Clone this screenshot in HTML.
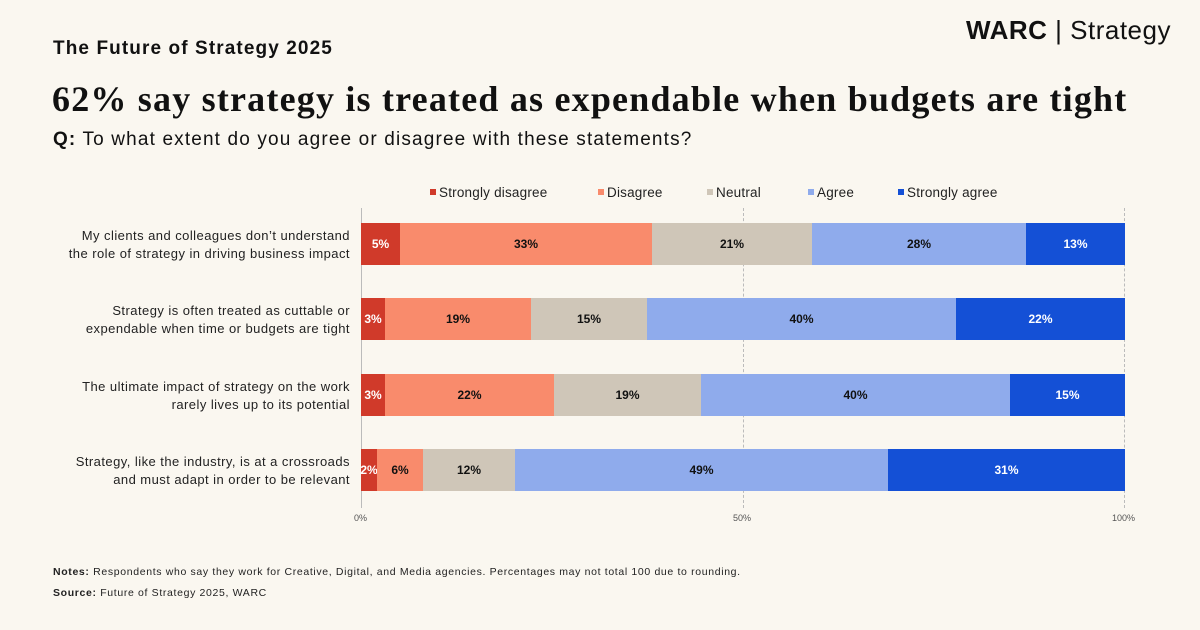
<!DOCTYPE html><html><head><style>
body{margin:0;background:#faf7f0;font-family:"Liberation Sans",sans-serif;color:#111}
#c{position:relative;width:1200px;height:630px;overflow:hidden}
.a{position:absolute;white-space:nowrap}
.bar{position:absolute;height:42px;display:flex;align-items:center;justify-content:center;font-size:12px;font-weight:bold}
.lab{position:absolute;right:850px;text-align:right;font-size:13px;letter-spacing:0.45px;line-height:18px;color:#222}
.lg{position:absolute;top:185px;font-size:13.5px;letter-spacing:0.2px;color:#222}
.lg i{display:inline-block;width:6px;height:6px;margin-right:3px;vertical-align:2px}
</style></head><body><div id="c">
<div class="a" style="left:966px;top:15px;font-size:26px;letter-spacing:0.5px"><b>WARC</b> <span style="font-weight:300">| Strategy</span></div>
<div class="a" style="left:53px;top:38px;font-size:19px;letter-spacing:1.1px;font-weight:bold">The Future of Strategy 2025</div>
<div class="a" style="left:52px;top:78px;font-size:36px;letter-spacing:1.2px;font-weight:bold;font-family:'Liberation Serif',serif">62% say strategy is treated as expendable when budgets are tight</div>
<div class="a" style="left:53px;top:129px;font-size:19px;letter-spacing:1.15px"><b>Q:</b> To what extent do you agree or disagree with these statements?</div>
<div class="lg" style="left:430px"><i style="background:#d03a2a"></i>Strongly disagree</div>
<div class="lg" style="left:598px"><i style="background:#f98b6c"></i>Disagree</div>
<div class="lg" style="left:707px"><i style="background:#cfc6b8"></i>Neutral</div>
<div class="lg" style="left:808px"><i style="background:#8fabec"></i>Agree</div>
<div class="lg" style="left:898px"><i style="background:#1450d6"></i>Strongly agree</div>
<div class="a" style="left:361px;top:208px;width:1px;height:300px;background:#bbb"></div>
<div class="a" style="left:743px;top:208px;width:0;height:300px;border-left:1px dashed #bbb"></div>
<div class="a" style="left:1124px;top:208px;width:0;height:300px;border-left:1px dashed #bbb"></div>
<div class="a" style="left:354px;top:513px;font-size:9px;color:#555">0%</div>
<div class="a" style="left:733px;top:513px;font-size:9px;color:#555">50%</div>
<div class="a" style="left:1112px;top:513px;font-size:9px;color:#555">100%</div>
<div class="lab" style="top:227px">My clients and colleagues don’t understand<br>the role of strategy in driving business impact</div>
<div class="lab" style="top:302px">Strategy is often treated as cuttable or<br>expendable when time or budgets are tight</div>
<div class="lab" style="top:378px">The ultimate impact of strategy on the work<br>rarely lives up to its potential</div>
<div class="lab" style="top:453px">Strategy, like the industry, is at a crossroads<br>and must adapt in order to be relevant</div>

<div class="bar" style="top:223px;left:361px;width:39px;background:#d03a2a;color:#fff">5%</div>
<div class="bar" style="top:223px;left:400px;width:252px;background:#f98b6c">33%</div>
<div class="bar" style="top:223px;left:652px;width:160px;background:#cfc6b8">21%</div>
<div class="bar" style="top:223px;left:812px;width:214px;background:#8fabec">28%</div>
<div class="bar" style="top:223px;left:1026px;width:99px;background:#1450d6;color:#fff">13%</div>

<div class="bar" style="top:298px;left:361px;width:24px;background:#d03a2a;color:#fff">3%</div>
<div class="bar" style="top:298px;left:385px;width:146px;background:#f98b6c">19%</div>
<div class="bar" style="top:298px;left:531px;width:116px;background:#cfc6b8">15%</div>
<div class="bar" style="top:298px;left:647px;width:309px;background:#8fabec">40%</div>
<div class="bar" style="top:298px;left:956px;width:169px;background:#1450d6;color:#fff">22%</div>

<div class="bar" style="top:374px;left:361px;width:24px;background:#d03a2a;color:#fff">3%</div>
<div class="bar" style="top:374px;left:385px;width:169px;background:#f98b6c">22%</div>
<div class="bar" style="top:374px;left:554px;width:147px;background:#cfc6b8">19%</div>
<div class="bar" style="top:374px;left:701px;width:309px;background:#8fabec">40%</div>
<div class="bar" style="top:374px;left:1010px;width:115px;background:#1450d6;color:#fff">15%</div>

<div class="bar" style="top:449px;left:361px;width:16px;background:#d03a2a;color:#fff">2%</div>
<div class="bar" style="top:449px;left:377px;width:46px;background:#f98b6c">6%</div>
<div class="bar" style="top:449px;left:423px;width:92px;background:#cfc6b8">12%</div>
<div class="bar" style="top:449px;left:515px;width:373px;background:#8fabec">49%</div>
<div class="bar" style="top:449px;left:888px;width:237px;background:#1450d6;color:#fff">31%</div>

<div class="a" style="left:53px;top:566px;font-size:10.5px;letter-spacing:0.65px;color:#222"><b>Notes:</b> Respondents who say they work for Creative, Digital, and Media agencies. Percentages may not total 100 due to rounding.</div>
<div class="a" style="left:53px;top:587px;font-size:10.5px;letter-spacing:0.65px;color:#222"><b>Source:</b> Future of Strategy 2025, WARC</div>
</div></body></html>
